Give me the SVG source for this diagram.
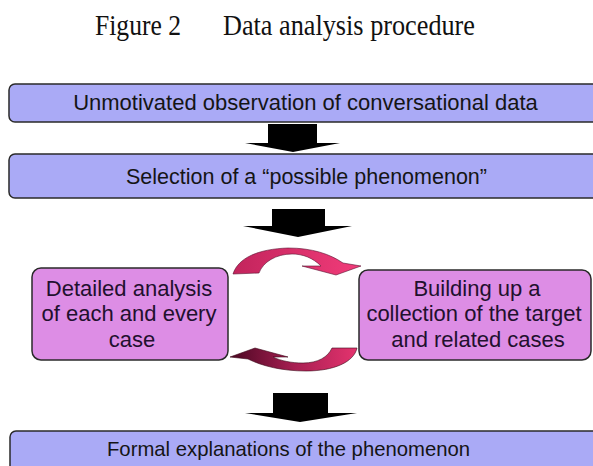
<svg xmlns="http://www.w3.org/2000/svg" width="593" height="466" viewBox="0 0 593 466">
  <style>
    .title { font-family: "Liberation Serif", "Times New Roman", serif; font-size: 29px; fill: #111; }
    .blue { fill: #aaaaf6; stroke: #2a2a2a; stroke-width: 1.5; }
    .pink { fill: #dd8de5; stroke: #2a2a2a; stroke-width: 1.5; }
    .lbl { font-family: "Liberation Sans", Arial, Helvetica, sans-serif; font-size: 21.5px; fill: #151515; text-anchor: middle; }
    .plbl { font-family: "Liberation Sans", Arial, Helvetica, sans-serif; font-size: 22px; fill: #22102e; text-anchor: middle; }
    .block { fill: #000; }
  </style>
  <defs>
    <linearGradient id="gTop" gradientUnits="userSpaceOnUse" x1="233" y1="260" x2="362" y2="265">
      <stop offset="0" stop-color="#c2245c"/>
      <stop offset="1" stop-color="#f23c7a"/>
    </linearGradient>
    <linearGradient id="gBot" gradientUnits="userSpaceOnUse" x1="230" y1="360" x2="359" y2="355">
      <stop offset="0" stop-color="#4a0722"/>
      <stop offset="0.5" stop-color="#a81f52"/>
      <stop offset="1" stop-color="#e6346f"/>
    </linearGradient>
  </defs>

  <g id="title">
    <text class="title" x="95" y="35" textLength="86" lengthAdjust="spacingAndGlyphs">Figure 2</text>
    <text class="title" x="223" y="35" textLength="252" lengthAdjust="spacingAndGlyphs">Data analysis procedure</text>
  </g>

  <g id="node-observation">
    <rect class="blue" x="9" y="84" width="600" height="38" rx="6"/>
    <text class="lbl" x="305.5" y="110" style="font-size:22px">Unmotivated observation of conversational data</text>
  </g>

  <g id="node-selection">
    <rect class="blue" x="9" y="154" width="600" height="44" rx="6"/>
    <text class="lbl" x="306.5" y="183.5">Selection of a “possible phenomenon”</text>
  </g>

  <g id="node-detailed">
    <rect class="pink" x="32" y="268" width="196" height="92" rx="9"/>
    <text class="plbl" x="129" y="296">Detailed analysis</text>
    <text class="plbl" x="129" y="321">of each and every</text>
    <text class="plbl" x="132" y="347">case</text>
  </g>

  <g id="node-collection">
    <rect class="pink" x="359" y="270" width="232" height="90" rx="9"/>
    <text class="plbl" x="477" y="296">Building up a</text>
    <text class="plbl" x="474" y="321">collection of the target</text>
    <text class="plbl" x="478" y="347">and related cases</text>
  </g>

  <g id="node-formal">
    <rect class="blue" x="10" y="431" width="600" height="60" rx="6"/>
    <text class="lbl" x="288.5" y="456" style="font-size:20.3px">Formal explanations of the phenomenon</text>
  </g>

  <g id="connectors">
    <path class="block" d="M268 124 H317 V143 H340 L293 152 L245 143 H268 Z"/>
    <path class="block" d="M272 209 H325 V226 H352 L298 237 L243 226 H272 Z"/>
    <path class="block" d="M273 393 H328 V413 H357 L300 422 L245 413 H273 Z"/>
    <path fill="url(#gTop)" stroke="#5a1030" stroke-width="0.6" d="M233 274 C238 258 258 249 288 248 C312 248 330 254 343 263 L361 266 L336 275 L302 266 L321 266 C313 258 303 254 292 254 C276 254 263 262 259 273 Z"/>
    <path fill="url(#gBot)" stroke="#3a0618" stroke-width="0.6" d="M357 348 C354 362 334 371 306 371 C282 371 262 366 248 359 L230 357 L255 348 L288 357 L273 357 C281 361 292 363 303 363 C318 363 328 357 332 348 Z"/>
  </g>
</svg>
